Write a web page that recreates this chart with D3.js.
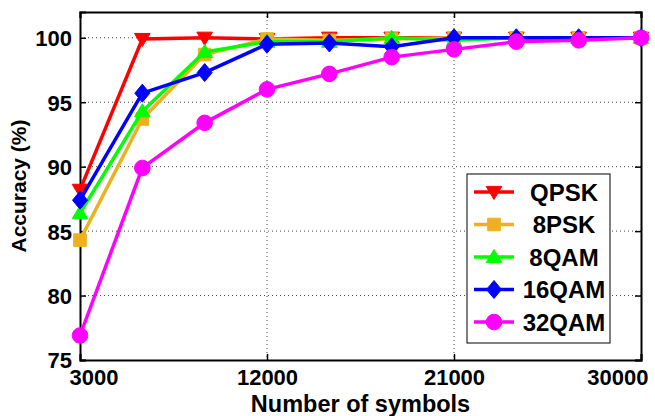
<!DOCTYPE html>
<html>
<head>
<meta charset="utf-8">
<script src="https://cdn.jsdelivr.net/npm/d3@7"></script>
<style>
  body { margin: 0; background: #fff; }
  svg { display: block; font-family: "Liberation Sans", Arial, sans-serif; font-weight: bold; }
</style>
</head>
<body>
<div id="chart"></div>
<script>
// data
const symbols = [3000, 6000, 9000, 12000, 15000, 18000, 21000, 24000, 27000, 30000];
const qpsk  = [88.2, 99.9, 100, 99.9, 100, 100, 100, 100, 100, 100];
const psk8  = [84.3, 93.7, 98.7, 99.9, 99.8, 99.9, 100, 100, 100, 100];
const qam8  = [86.4, 94.3, 98.9, 99.7, 99.7, 100, 99.8, 100, 100, 100];
const qam16 = [87.4, 95.7, 97.3, 99.5, 99.6, 99.3, 100, 100, 100, 100];
const qam32 = [76.9, 89.9, 93.4, 96.0, 97.2, 98.5, 99.1, 99.7, 99.8, 100];
const xTicks = [3000, 12000, 21000, 30000];
const yTicks = [75, 80, 85, 90, 95, 100];

const series = [
  { name: 'QPSK',  values: qpsk,  color: '#ff0000', marker: 'down' },
  { name: '8PSK',  values: psk8,  color: '#edb120', marker: 'square' },
  { name: '8QAM',  values: qam8,  color: '#00ff00', marker: 'up' },
  { name: '16QAM', values: qam16, color: '#0000ff', marker: 'diamond' },
  { name: '32QAM', values: qam32, color: '#ff00ff', marker: 'circle' }
];

const W = 655, H = 416;
const margin = { top: 12, right: 14, bottom: 56, left: 80 };
const width = W - margin.left - margin.right;
const height = H - margin.top - margin.bottom;

const svg = d3.select('#chart').append('svg')
    .attr('width', W)
    .attr('height', H);

const g = svg.append('g')
    .attr('transform', `translate(${margin.left},${margin.top})`);

const x = d3.scaleLinear().domain([3000, 30000]).range([0, width]);
const y = d3.scaleLinear().domain([75, 102]).range([height, 0]);

// dotted grid
g.append('g').selectAll('line')
  .data(xTicks.slice(1, -1))
  .enter().append('line')
    .attr('x1', d => x(d)).attr('x2', d => x(d))
    .attr('y1', 0).attr('y2', height)
    .attr('stroke', '#444').attr('stroke-width', 1)
    .attr('stroke-dasharray', '1,3');

g.append('g').selectAll('line')
  .data(yTicks.slice(1))
  .enter().append('line')
    .attr('x1', 0).attr('x2', width)
    .attr('y1', d => y(d)).attr('y2', d => y(d))
    .attr('stroke', '#444').attr('stroke-width', 1)
    .attr('stroke-dasharray', '1,3');

// axes, matlab style: ticks pointing inward on all four sides
const tickLen = 6;
const xAxis = g.append('g')
    .attr('transform', `translate(0,${height})`)
    .call(d3.axisBottom(x).tickValues(xTicks).tickSize(-tickLen).tickPadding(9).tickFormat(d3.format('d')));
const yAxis = g.append('g')
    .call(d3.axisLeft(y).tickValues(yTicks).tickSize(-tickLen).tickPadding(8));
const xTop = g.append('g')
    .call(d3.axisTop(x).tickValues(xTicks).tickSize(-tickLen).tickFormat(''));
const yRight = g.append('g')
    .attr('transform', `translate(${width},0)`)
    .call(d3.axisRight(y).tickValues(yTicks).tickSize(-tickLen).tickFormat(''));

[xAxis, yAxis, xTop, yRight].forEach(a => {
  a.select('.domain').attr('stroke', '#000').attr('stroke-width', 2);
  a.selectAll('.tick line').attr('stroke', '#000').attr('stroke-width', 1.5);
  a.selectAll('text')
    .attr('fill', '#000')
    .style('font-size', '22px')
    .style('font-weight', 'bold')
    .style('font-family', '"Liberation Sans", Arial, sans-serif');
});
yAxis.selectAll('text').attr('dy', '0.36em');

// first and last x labels are pushed inward, as in the reference
xAxis.selectAll('.tick text')
  .attr('text-anchor', d => d === xTicks[0] ? 'start' : (d === xTicks[xTicks.length - 1] ? 'end' : 'middle'))
  .attr('x', d => d === xTicks[0] ? -11 : (d === xTicks[xTicks.length - 1] ? 7 : 0));

// axis titles
g.append('text')
    .attr('x', width / 2)
    .attr('y', height + 52)
    .attr('text-anchor', 'middle')
    .style('font-size', '23.5px')
    .text('Number of symbols');

g.append('text')
    .attr('transform', `translate(${-54},${y(88.5)}) rotate(-90)`)
    .attr('text-anchor', 'middle')
    .style('font-size', '21px')
    .text('Accuracy (%)');

// marker shapes
function markerPath(type, s) {
  const p = d3.path();
  if (type === 'circle') {
    p.arc(0, 0, s * 0.52, 0, 2 * Math.PI);
  } else if (type === 'square') {
    const h = s * 0.42;
    p.rect(-h, -h, 2 * h, 2 * h);
  } else if (type === 'diamond') {
    const w = s * 0.5, h = s * 0.6;
    p.moveTo(0, -h); p.lineTo(w, 0); p.lineTo(0, h); p.lineTo(-w, 0); p.closePath();
  } else if (type === 'up') {
    const w = s * 0.52, h = s * 0.5;
    p.moveTo(0, -h); p.lineTo(w, h * 0.75); p.lineTo(-w, h * 0.75); p.closePath();
  } else if (type === 'down') {
    const w = s * 0.52, h = s * 0.5;
    p.moveTo(0, h); p.lineTo(w, -h * 0.75); p.lineTo(-w, -h * 0.75); p.closePath();
  }
  return p.toString();
}

const line = d3.line()
    .x((d, i) => x(symbols[i]))
    .y(d => y(d));

const markSize = 15;

series.forEach(s => {
  const sg = g.append('g');
  sg.append('path')
      .datum(s.values)
      .attr('d', line)
      .attr('fill', 'none')
      .attr('stroke', s.color)
      .attr('stroke-width', 3.5);
  sg.selectAll('path.mk')
    .data(s.values)
    .enter().append('path')
      .attr('class', 'mk')
      .attr('transform', (d, i) => `translate(${x(symbols[i])},${y(d)})`)
      .attr('d', markerPath(s.marker, markSize))
      .attr('fill', s.color)
      .attr('stroke', s.color)
      .attr('stroke-width', 1);
});

// legend
const lg = svg.append('g').attr('transform', 'translate(467,174)');
lg.append('rect')
    .attr('width', 143).attr('height', 169)
    .attr('fill', '#fff').attr('stroke', '#000').attr('stroke-width', 1);

const rowY = d3.scalePoint().domain(series.map(s => s.name)).range([18, 148]);

series.forEach(s => {
  const ry = rowY(s.name);
  lg.append('line')
      .attr('x1', 7).attr('x2', 47)
      .attr('y1', ry).attr('y2', ry)
      .attr('stroke', s.color).attr('stroke-width', 3.5);
  lg.append('path')
      .attr('transform', `translate(27,${ry})`)
      .attr('d', markerPath(s.marker, markSize))
      .attr('fill', s.color).attr('stroke', s.color);
  lg.append('text')
      .attr('x', 97).attr('y', ry)
      .attr('dy', '0.36em')
      .attr('text-anchor', 'middle')
      .style('font-size', '24px')
      .text(s.name);
});
</script>
</body>
</html>
